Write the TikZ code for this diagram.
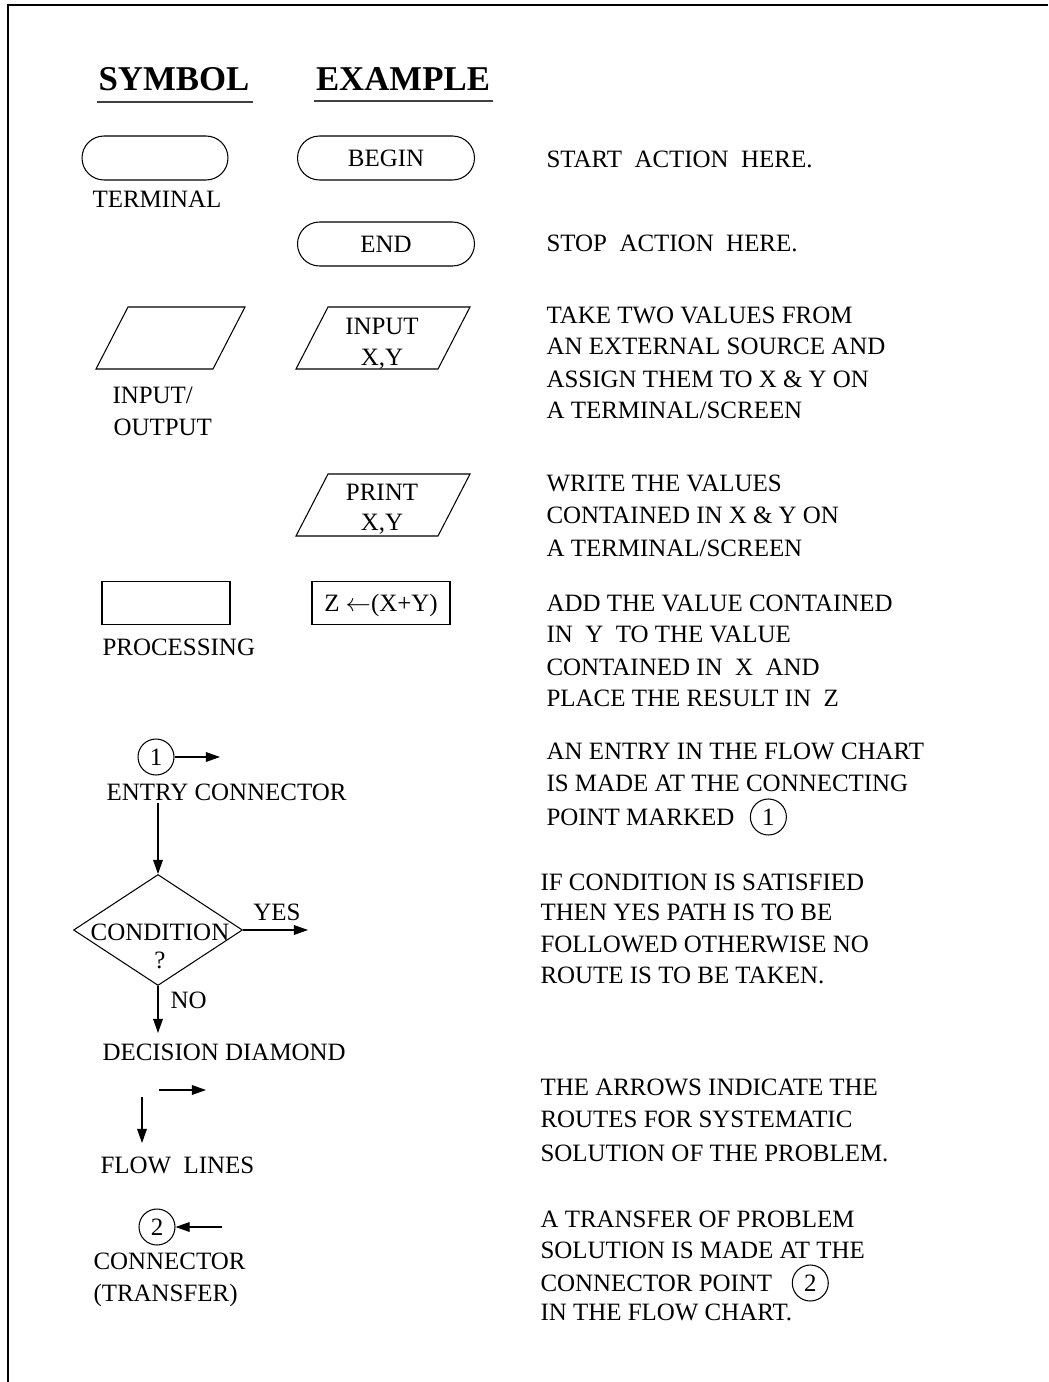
\documentclass[tikz,border=0pt]{standalone}
\usepackage{fontspec}
\setmainfont{Liberation Serif}
\usetikzlibrary{arrows.meta,positioning,shapes.geometric,shapes.misc}

\begin{document}
\begin{tikzpicture}[x=0.02cm,y=-0.02cm,
  every path/.style={line width=.6pt},
  txt/.style={inner sep=0pt,text height=9.4pt,text depth=0pt,font=\fontsize{14.2}{17}\selectfont},
  desc/.style={txt,anchor=west},
  head/.style={inner sep=0pt,text height=13.1pt,text depth=0pt,font=\fontsize{19.8}{24}\selectfont\bfseries},
  uline/.style={line width=1.2pt,black!75},
  term/.style={rounded rectangle,draw,minimum width=3.54cm,minimum height=.88cm,txt},
  procbox/.style={rectangle,draw,minimum height=.86cm,txt},
  conn/.style={circle,draw,minimum size=.72cm,txt},
  arr/.style={-{Triangle[length=8pt,width=5.5pt]}}]
\useasboundingbox (0,0) rectangle (1048,1382);
% frame
\draw[line width=1.2pt] (8,1382) -- (8,5) -- (1048,5);
% headings
\node[head] (hsym) at (174,79) {SYMBOL};
\node[head] (hexa) at (403,79) {EXAMPLE};
\draw[uline] (97,102) -- (253,102);
\draw[uline] (314,101) -- (493,101);
% terminal
\node[term,minimum width=2.92cm] (tsym) at (155,158) {};
\node[txt] (tlab) at (157,199) {TERMINAL};
\node[term] (tbeg) at (386,158) {BEGIN};
\node[term] (tend) at (386,244) {END};
\node[desc] (d1) at (546,159) {START\ \ ACTION\ \ HERE.};
\node[desc] (d2) at (546,243) {STOP\ \ ACTION\ \ HERE.};
% input/output
\draw (128,307) -- (245,307) -- (213,369) -- (96,369) -- cycle;
\node[desc] (iolab1) at (112,395) {INPUT/};
\node[desc] (iolab2) at (113,427) {OUTPUT};
\draw (328,307) -- (470,307) -- (438,369) -- (296,369) -- cycle;
\node[txt] (in1) at (382,326) {INPUT};
\node[txt] (in2) at (382,357) {X,Y};
\draw (328,474) -- (470,474) -- (438,536) -- (296,536) -- cycle;
\node[txt] (pr1) at (382,492) {PRINT};
\node[txt] (pr2) at (382,522) {X,Y};
\node[desc] (d3) at (546,315) {TAKE TWO VALUES FROM};
\node[desc] (d4) at (546,346) {AN EXTERNAL SOURCE AND};
\node[desc] (d5) at (546,379) {ASSIGN THEM TO X \& Y ON};
\node[desc] (d6) at (546,410) {A TERMINAL/SCREEN};
\node[desc] (d7) at (546,483) {WRITE THE VALUES};
\node[desc] (d8) at (546,515) {CONTAINED IN X \& Y ON};
\node[desc] (d9) at (546,548) {A TERMINAL/SCREEN};
% processing
\node[procbox,minimum width=2.56cm] (psym) at (166,603) {};
\node[desc] (plab) at (102,647) {PROCESSING};
\node[procbox,minimum width=2.76cm] (pexa) at (381,603) {Z $\leftarrow$(X+Y)};
\node[desc] (d10) at (546,603) {ADD THE VALUE CONTAINED};
\node[desc] (d11) at (546,634) {IN\ \ Y\ \ TO THE VALUE};
\node[desc] (d12) at (546,667) {CONTAINED IN\ \ X\ \ AND};
\node[desc] (d13) at (546,698) {PLACE THE RESULT IN\ \ Z};
% entry connector
\node[conn] (c1) at (156,757) {1};
\coordinate (c1out) at (220,757);
\draw[arr] (c1) -- (c1out);
\node[desc] (elab) at (106,792) {ENTRY CONNECTOR};
\node[desc] (d14) at (546,751) {AN ENTRY IN THE FLOW CHART};
\node[desc] (d15) at (546,783) {IS MADE AT THE CONNECTING};
\node[desc] (d16) at (546,817) {POINT MARKED};
\node[conn,right=.3cm of d16] (c1b) {1};
% decision
\node[diamond,draw,minimum width=3.38cm,minimum height=2.22cm,inner sep=0pt] (dia) at (158,930) {};
\node[txt] (cond1) at (160,932) {CONDITION};
\node[txt] (cond2) at (160,960) {?};
\coordinate (diain) at (158,803);
\coordinate (diayes) at (308,930);
\coordinate (diano) at (158,1033);
\draw[arr] (diain) -- (dia.north);
\draw[arr] (dia.east) -- (diayes);
\draw[arr] (dia.south) -- (diano);
\node[txt] (yes) at (277,912) {YES};
\node[desc] (no) at (170,1000) {NO};
\node[desc] (dlab) at (102,1052) {DECISION DIAMOND};
\node[desc] (d17) at (540,882) {IF CONDITION IS SATISFIED};
\node[desc] (d18) at (540,912) {THEN YES PATH IS TO BE};
\node[desc] (d19) at (540,944) {FOLLOWED OTHERWISE NO};
\node[desc] (d20) at (540,975) {ROUTE IS TO BE TAKEN.};
% flow lines
\coordinate (fh1) at (159,1090);
\coordinate (fh2) at (206,1090);
\coordinate (fv1) at (142,1097);
\coordinate (fv2) at (142,1143);
\draw[arr] (fh1) -- (fh2);
\draw[arr] (fv1) -- (fv2);
\node[desc] (flab) at (100,1165) {FLOW\ \ LINES};
\node[desc] (d21) at (540,1087) {THE ARROWS INDICATE THE};
\node[desc] (d22) at (540,1119) {ROUTES FOR SYSTEMATIC};
\node[desc] (d23) at (540,1153) {SOLUTION OF THE PROBLEM.};
% transfer connector
\node[conn] (c2) at (157,1227) {2};
\coordinate (c2in) at (222,1227);
\draw[arr] (c2in) -- (c2);
\node[desc] (clab1) at (93,1261) {CONNECTOR};
\node[desc] (clab2) at (93,1293) {(TRANSFER)};
\node[desc] (d24) at (540,1219) {A TRANSFER OF PROBLEM};
\node[desc] (d25) at (540,1250) {SOLUTION IS MADE AT THE};
\node[desc] (d26) at (540,1283) {CONNECTOR POINT};
\node[conn,right=.38cm of d26] (c2b) {2};
\node[desc] (d27) at (540,1312) {IN THE FLOW CHART.};
\end{tikzpicture}
\end{document}
